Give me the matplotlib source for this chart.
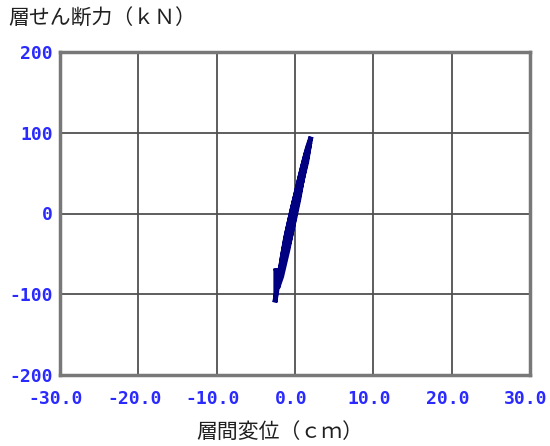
import matplotlib
matplotlib.use("Agg")
import matplotlib.pyplot as plt
from matplotlib.transforms import ScaledTranslation

# Data: storey drift (cm) vs storey shear (kN)
disp = [0.0, 0.5, 1.0, 0.6, 0.0, -0.5, -1.0, -0.6, 0.0, 0.5, 1.0, 1.5, 2.05,
        1.6, 1.0, 0.2, -0.5, -1.2, -1.9, -2.56, -2.45, -2.45, -2.1, -1.4,
        -0.6, 0.2, 0.9, 1.5, 1.9, 1.4, 0.6, -0.3, -1.0, -1.6, -2.2, -1.7, -0.9, -0.2, 0.0]
shear = [0.0, 22, 45, 30, 5, -18, -45, -30, -5, 18, 45, 68, 95,
         82, 60, 28, 0, -30, -70, -110, -100, -68, -82, -55,
         -22, 12, 40, 64, 88, 74, 44, 8, -22, -52, -92, -78, -45, -12, 0]

xticks = [-30.0, -20.0, -10.0, 0.0, 10.0, 20.0, 30.0]
yticks = [-200, -100, 0, 100, 200]
ylabel_text = "層せん断力（ｋＮ）"
xlabel_text = "層間変位（ｃｍ）"

plt.rcParams['font.family'] = ['Noto Sans CJK JP', 'DejaVu Sans']

fig = plt.figure(figsize=(5.5, 4.46), dpi=100)
ax = fig.add_axes([60/550, 1-375/446, 470/550, 323/446])

ax.plot(disp, shear, color='#000080', lw=3.5, solid_joinstyle='miter', zorder=3)

ax.set_xlim(-30, 30)
ax.set_ylim(-200, 200)
ax.set_xticks(xticks)
ax.set_yticks(yticks)
ax.set_xticklabels([f"{v:.1f}" for v in xticks], family='DejaVu Sans Mono',
                   fontsize=13, color='#2a2aff', fontweight='bold')
ax.set_yticklabels([f"{v}" for v in yticks], family='DejaVu Sans Mono',
                   fontsize=13, color='#2a2aff', fontweight='bold')
ax.tick_params(axis='x', length=0, pad=11)
ax.tick_params(axis='y', length=0, pad=5)
off = ScaledTranslation(-4/100, 0, fig.dpi_scale_trans)
for lab in ax.get_xticklabels():
    lab.set_transform(lab.get_transform() + off)
ax.grid(True, color='#505050', lw=1.3)
ax.set_axisbelow(True)
for s in ax.spines.values():
    s.set_color('#787878')
    s.set_linewidth(2.5)

fig.text(8/550, 1-19/446, ylabel_text, fontsize=15, va='center', ha='left', color='#202020')
fig.text(280/550, 1-432/446, xlabel_text, fontsize=15, va='center', ha='center', color='#202020')

fig.savefig("out.png", dpi=100)
